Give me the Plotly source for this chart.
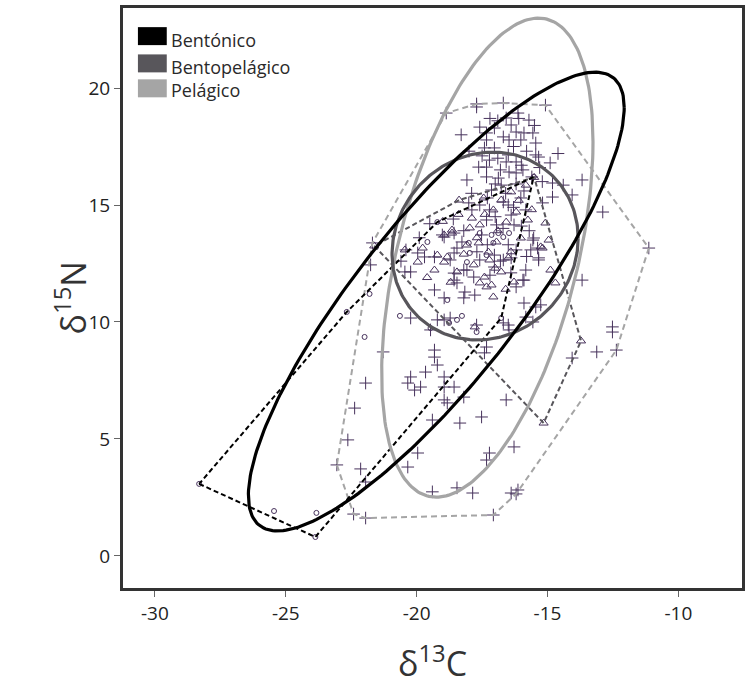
import numpy as np
import plotly.graph_objects as go

# ---- stable-isotope values (delta13C, delta15N) per habitat group ----
pelagico_x = [
    -18.87, -17.71, -16.69, -15.08, -17.71, -16.13, -16.58, -15.71, -17.59, -17.33,
    -17.03, -16.39, -16.20, -15.90, -15.56, -16.02, -16.47, -16.69, -17.33, -17.41,
    -17.03, -15.45, -15.45, -15.34, -16.50, -16.20, -16.58, -17.22, -17.63, -17.33,
    -18.08, -17.33, -16.88, -16.47, -16.20, -15.94, -18.01, -17.59, -17.22, -16.69,
    -15.19, -14.81,
    -11.13, -12.37, -16.20, -17.07, -21.95, -22.41, -23.05, -21.69,
    -18.95, -18.57, -18.27, -18.46, -18.72, -18.57, -18.08, -17.82, -17.59, -17.03,
    -16.69, -16.39, -15.83, -15.90, -16.20, -15.34, -15.56, -16.28, -17.33, -18.95,
    -18.20, -17.78, -18.16, -15.90, -15.45, -18.95, -18.72, -16.69, -16.50, -16.47,
    -17.71, -15.83,
    -21.76, -20.41, -19.96, -19.70, -19.32, -18.57, -19.02,
    -20.45, -20.23, -19.32, -20.23, -19.47, -19.21, -19.32, -19.32, -19.21, -20.23,
    -20.34, -19.85, -20.08, -19.66, -18.95, -18.95, -18.57, -18.95, -18.83, -18.20,
    -21.95, -21.28, -19.40, -18.35, -18.57, -18.20, -18.46,
    -22.14, -21.95, -20.34, -19.96,
    -13.68, -14.06, -14.40, -12.89, -15.53, -15.38, -15.34, -15.94, -15.26, -13.68,
    -12.52, -12.52, -13.12, -14.06, -16.58, -17.52, -16.28, -17.22, -17.33, -16.13,
    -16.39, -17.33, -17.41, -15.56, -14.81,
    -19.40, -18.46, -17.86, -22.63, -22.37,
    -17.14, -16.77, -16.50, -16.02, -15.83, -16.95, -16.39, -17.52, -16.20, -15.64,
    -17.89, -17.03,
    -17.50, -16.90, -16.30, -15.80, -16.00, -16.80, -17.00, -16.20, -15.60, -15.30,
    -16.60, -17.30, -15.90, -16.30, -17.00, -16.70, -16.00, -15.70, -17.30, -16.50,
    -17.70, -16.80, -17.20, -16.40, -15.80, -18.20, -18.60, -17.90, -16.10, -16.90,
    -15.50, -17.20, -18.30, -18.00, -15.20, -14.90, -14.60, -19.50, -19.90, -20.60,
]
pelagico_y = [
    18.93, 19.32, 19.36, 19.27, 19.19, 18.93, 18.72, 18.63, 18.33, 18.08,
    18.29, 18.42, 18.12, 18.08, 18.08, 17.78, 17.78, 17.91, 17.78, 17.44,
    17.44, 17.65, 17.14, 17.05, 17.14, 16.84, 16.84, 16.92, 16.62, 16.62,
    16.07, 16.20, 16.15, 16.41, 16.37, 16.50, 15.09, 15.00, 14.79, 15.13,
    15.09, 15.34,
    13.16, 8.80, 2.65, 1.75, 1.62, 1.79, 3.89, 13.38,
    13.63, 13.80, 13.42, 13.16, 12.65, 11.79, 12.22, 11.92, 12.65, 12.35,
    12.65, 12.74, 12.22, 11.79, 11.50, 12.65, 13.50, 14.15, 14.36, 11.03,
    11.03, 11.15, 11.28, 10.81, 10.64, 10.09, 10.17, 9.96, 9.87, 9.66,
    9.87, 10.21,
    12.44, 13.08, 12.95, 12.78, 12.78, 12.95, 13.72,
    12.14, 12.14, 11.37, 10.17, 9.66, 10.09, 8.80, 8.50, 8.16, 7.65,
    7.39, 7.22, 7.09, 7.86, 7.65, 7.22, 7.22, 6.67, 6.54, 6.79,
    7.39, 8.72, 5.81, 5.68, 12.09, 12.22, 11.67,
    3.72, 3.16, 3.80, 4.40,
    16.07, 15.43, 15.85, 14.70, 13.59, 13.16, 12.74, 11.79, 10.73, 11.79,
    9.79, 9.57, 8.72, 8.46, 6.67, 5.94, 4.66, 4.40, 4.10, 2.82,
    2.69, 8.93, 8.68, 10.00, 15.94,
    2.74, 2.91, 2.69, 4.96, 6.32,
    15.64, 15.85, 15.00, 15.30, 14.79, 14.15, 14.57, 13.72, 13.08, 13.08,
    14.79, 12.86,
    17.10, 17.00, 17.50, 17.30, 16.70, 16.50, 15.90, 15.90, 16.20, 16.60,
    15.50, 15.30, 15.60, 14.90, 14.50, 14.00, 14.10, 13.90, 13.30, 13.30,
    13.00, 12.60, 12.00, 12.10, 12.80, 13.90, 14.40, 15.50, 18.70, 18.60,
    18.40, 18.70, 18.00, 17.30, 16.00, 16.80, 17.20, 14.20, 13.60, 12.60,
]

bentopelagico_x = [
    -21.62, -15.51, -18.38, -13.72, -15.15, -17.89, -17.59, -18.65, -17.97, -17.63,
    -17.26, -17.22, -17.41, -17.59, -17.33, -17.14, -17.07, -18.95, -17.82, -16.50,
    -15.75, -15.08, -15.19, -17.78, -17.07, -20.45, -19.77, -18.95, -18.65, -18.83,
    -14.96, -15.26, -16.77, -16.39, -16.20, -16.58, -16.02, -18.08, -18.46, -19.32,
    -19.96, -16.77, -16.28, -16.95, -17.44, -15.83, -14.89, -14.70, -19.21,
    -16.90, -17.40, -16.40, -18.20, -17.00, -16.60, -18.70, -19.60, -15.60, -16.10,
    -17.70, -18.40, -19.00,
]
bentopelagico_y = [
    13.25, 16.18, 15.21, 9.19, 5.68, 14.44, 14.15, 13.80, 14.02, 13.38,
    12.99, 12.65, 11.92, 11.67, 11.50, 11.58, 11.07, 12.56, 12.44, 12.74,
    14.36, 14.23, 13.16, 9.79, 14.79, 13.08, 13.16, 13.72, 13.93, 12.78,
    13.50, 13.21, 15.21, 15.56, 14.70, 14.27, 13.59, 13.29, 12.14, 12.22,
    12.56, 12.14, 11.71, 13.42, 15.30, 15.85, 12.22, 11.67, 12.86,
    13.90, 14.60, 13.00, 12.90, 12.30, 11.40, 11.70, 11.90, 14.80, 15.20,
    13.60, 14.60, 14.30,
]

bentonico_x = [
    -28.31, -23.87, -16.77, -15.53, -19.21, -22.67, -25.45, -23.83, -21.80, -21.99,
    -20.64, -18.83, -18.27, -17.71, -17.97, -18.01, -17.59, -17.14, -16.88, -16.69,
    -17.07, -18.46, -18.76, -19.59, -19.47, -16.47, -17.33, -18.08,
]
bentonico_y = [
    3.08, 0.81, 10.17, 16.20, 14.27, 10.43, 1.92, 1.84, 11.20, 9.36,
    10.26, 10.94, 10.26, 9.57, 12.95, 13.38, 13.80, 13.72, 13.80, 13.63,
    13.38, 10.09, 9.96, 13.42, 9.74, 13.80, 12.86, 12.56,
]

# ellipse parameters per group: centre (x, y) and covariance (sxx, syy, sxy)
ell_bentonico = [-19.25, 10.875, 51.55, 96.1, 59.5]
ell_bentopelagico = [-17.385, 13.245, 12.64, 16.12, 1.2]
ell_pelagico = [-17.30, 12.75, 16.3, 104.8, 20.0]

group_names = ["Bentónico", "Bentopelágico", "Pelágico"]
group_colors = ["#000000", "#58565b", "#a5a5a5"]

x_ticks = [-30, -25, -20, -15, -10]
y_ticks = [0, 5, 10, 15, 20]

POINT_COLOR = "#47325c"


def convex_hull(xs, ys):
    pts = sorted(set(zip(xs, ys)))

    def cross(o, a, b):
        return (a[0] - o[0]) * (b[1] - o[1]) - (a[1] - o[1]) * (b[0] - o[0])

    lower, upper = [], []
    for p in pts:
        while len(lower) >= 2 and cross(lower[-2], lower[-1], p) <= 0:
            lower.pop()
        lower.append(p)
    for p in reversed(pts):
        while len(upper) >= 2 and cross(upper[-2], upper[-1], p) <= 0:
            upper.pop()
        upper.append(p)
    ring = lower[:-1] + upper[:-1]
    ring.append(ring[0])
    return [p[0] for p in ring], [p[1] for p in ring]


def ellipse_path(params, n=240):
    cx, cy, sxx, syy, sxy = params
    l11 = np.sqrt(sxx)
    l21 = sxy / l11
    l22 = np.sqrt(syy - l21 ** 2)
    t = np.linspace(0, 2 * np.pi, n)
    return cx + l11 * np.cos(t), cy + l21 * np.cos(t) + l22 * np.sin(t)


fig = go.Figure()

# individual samples
fig.add_trace(go.Scatter(
    x=pelagico_x, y=pelagico_y, mode="markers", showlegend=False,
    marker=dict(symbol="cross-thin-open", size=9, color=POINT_COLOR,
                line=dict(width=1, color=POINT_COLOR)),
))
fig.add_trace(go.Scatter(
    x=bentopelagico_x, y=bentopelagico_y, mode="markers", showlegend=False,
    marker=dict(symbol="triangle-up-open", size=8, color=POINT_COLOR,
                line=dict(width=1, color=POINT_COLOR)),
))
fig.add_trace(go.Scatter(
    x=bentonico_x, y=bentonico_y, mode="markers", showlegend=False,
    marker=dict(symbol="circle-open", size=5, color=POINT_COLOR,
                line=dict(width=1, color=POINT_COLOR)),
))

# convex hulls (dashed)
hull_specs = [
    (pelagico_x, pelagico_y, group_colors[2], "6px,4px"),
    (bentopelagico_x, bentopelagico_y, group_colors[1], "5px,3px"),
    (bentonico_x, bentonico_y, group_colors[0], "5px,3px"),
]
for xs, ys, col, dash in hull_specs:
    hx, hy = convex_hull(xs, ys)
    fig.add_trace(go.Scatter(x=hx, y=hy, mode="lines", showlegend=False,
                             line=dict(color=col, width=2, dash=dash)))

# standard ellipses
for params, col in [(ell_pelagico, group_colors[2]),
                    (ell_bentopelagico, group_colors[1]),
                    (ell_bentonico, group_colors[0])]:
    ex, ey = ellipse_path(params)
    fig.add_trace(go.Scatter(x=ex, y=ey, mode="lines", showlegend=False,
                             line=dict(color=col, width=3.2)))

# legend drawn as swatches + labels inside the plot area
shapes = []
annotations = []
sw_top = [0.967, 0.920, 0.877]
sw_h = 0.031
label_y = [0.945, 0.899, 0.858]
for name, col, top, ly in zip(group_names, group_colors, sw_top, label_y):
    shapes.append(dict(type="rect", xref="paper", yref="paper",
                       x0=0.0241, x1=0.0707, y0=top - sw_h, y1=top,
                       fillcolor=col, line=dict(width=0)))
    annotations.append(dict(xref="paper", yref="paper", x=0.075, y=ly,
                            text=name, showarrow=False, xanchor="left",
                            yanchor="middle",
                            font=dict(family="Open Sans", size=18, color="#2a2a2a")))

# axis titles
title_font = dict(family="Open Sans", size=34, color="#333333")
annotations.append(dict(xref="paper", yref="paper", x=0.5, y=-0.126,
                        text="δ<sup>13</sup>C", showarrow=False,
                        xanchor="center", yanchor="middle", font=title_font))
annotations.append(dict(xref="paper", yref="paper", x=-0.085, y=0.5,
                        text="δ<sup>15</sup>N", showarrow=False, textangle=-90,
                        xanchor="center", yanchor="middle", font=title_font))

axis_common = dict(
    showgrid=False, zeroline=False,
    showline=True, mirror=True, linecolor="#333333", linewidth=3,
    ticks="outside", ticklen=6, tickcolor="#666666", tickwidth=1,
    tickfont=dict(family="Open Sans", size=19, color="#222222"),
)

fig.update_layout(
    width=746, height=691,
    margin=dict(l=123, r=1, t=8, b=103),
    paper_bgcolor="white", plot_bgcolor="white",
    shapes=shapes, annotations=annotations,
    showlegend=False,
    xaxis=dict(range=[-31.22, -7.57], tickvals=x_ticks,
               ticktext=[str(v) for v in x_ticks], **axis_common),
    yaxis=dict(range=[-1.37, 23.42], tickvals=y_ticks,
               ticktext=[str(v) for v in y_ticks], **axis_common),
)

fig.write_html("out.html")
